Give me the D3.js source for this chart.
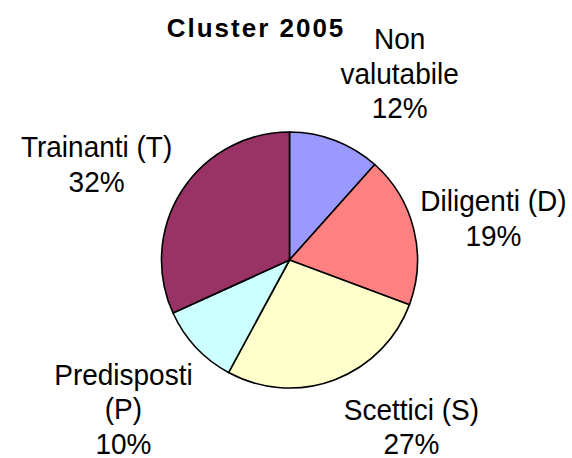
<!DOCTYPE html>
<html>
<head>
<meta charset="utf-8">
<script src="https://cdn.jsdelivr.net/npm/d3@7"></script>
<style>
  body { margin: 0; background: #fff; }
  svg { display: block; font-family: "Liberation Sans", Arial, sans-serif; }
</style>
</head>
<body>
<svg id="chart"></svg>
<script>
// data (share of each cluster, %)
const categories = ["Non valutabile", "Diligenti (D)", "Scettici (S)", "Predisposti (P)", "Trainanti (T)"];
const labelLines = [["Non", "valutabile"], ["Diligenti (D)"], ["Scettici (S)"], ["Predisposti", "(P)"], ["Trainanti (T)"]];
const values = [11.6, 19.1, 27.2, 10.3, 31.8];
const colors = ["#9999FF", "#FF8080", "#FFFFCC", "#CCFFFF", "#993366"];
const title = "Cluster 2005";

const width = 572, height = 458;
const cx = 289.5, cy = 260, radius = 128;
const labelRadius = 208;
const lineH = 34.5;
// small hand nudges, Excel pushes labels around a bit
const labelNudge = [[36, 8], [2, 8], [49, -28], [-14, 7], [-18, 17]];

const svg = d3.select("#chart")
  .attr("width", width)
  .attr("height", height);

svg.append("text")
  .attr("x", 256)
  .attr("y", 36.5)
  .attr("text-anchor", "middle")
  .style("font-size", "26px")
  .style("font-weight", "bold")
  .style("letter-spacing", "2px")
  .text(title);

const pie = d3.pie().sort(null).value(d => d);
const arcs = pie(values);
const total = d3.sum(values);

const arc = d3.arc().innerRadius(0).outerRadius(radius);

const g = svg.append("g").attr("transform", `translate(${cx},${cy})`);

g.selectAll("path")
  .data(arcs)
  .join("path")
  .attr("d", arc)
  .attr("fill", (d, i) => colors[i])
  .attr("stroke", "#000")
  .attr("stroke-width", 1.6)
  .attr("stroke-linejoin", "round");

const labels = g.selectAll("g.label")
  .data(arcs)
  .join("g")
  .attr("class", "label")
  .attr("transform", (d, i) => {
    const a = (d.startAngle + d.endAngle) / 2;
    const x = labelRadius * Math.sin(a) + labelNudge[i][0];
    const y = -labelRadius * Math.cos(a) + labelNudge[i][1];
    return `translate(${x},${y}) scale(1,1.08)`;
  });

labels.each(function(d, i) {
  const lines = labelLines[i].concat([Math.round(d.value / total * 100) + "%"]);
  const t = d3.select(this).append("text")
    .attr("text-anchor", "middle")
    .style("font-size", "28px");
  const y0 = -(lines.length - 1) * lineH / 2 / 1.08 + 9.5;
  lines.forEach((s, k) => {
    t.append("tspan")
      .attr("x", 0)
      .attr("y", y0 + k * lineH / 1.08)
      .text(s);
  });
});
</script>
</body>
</html>
